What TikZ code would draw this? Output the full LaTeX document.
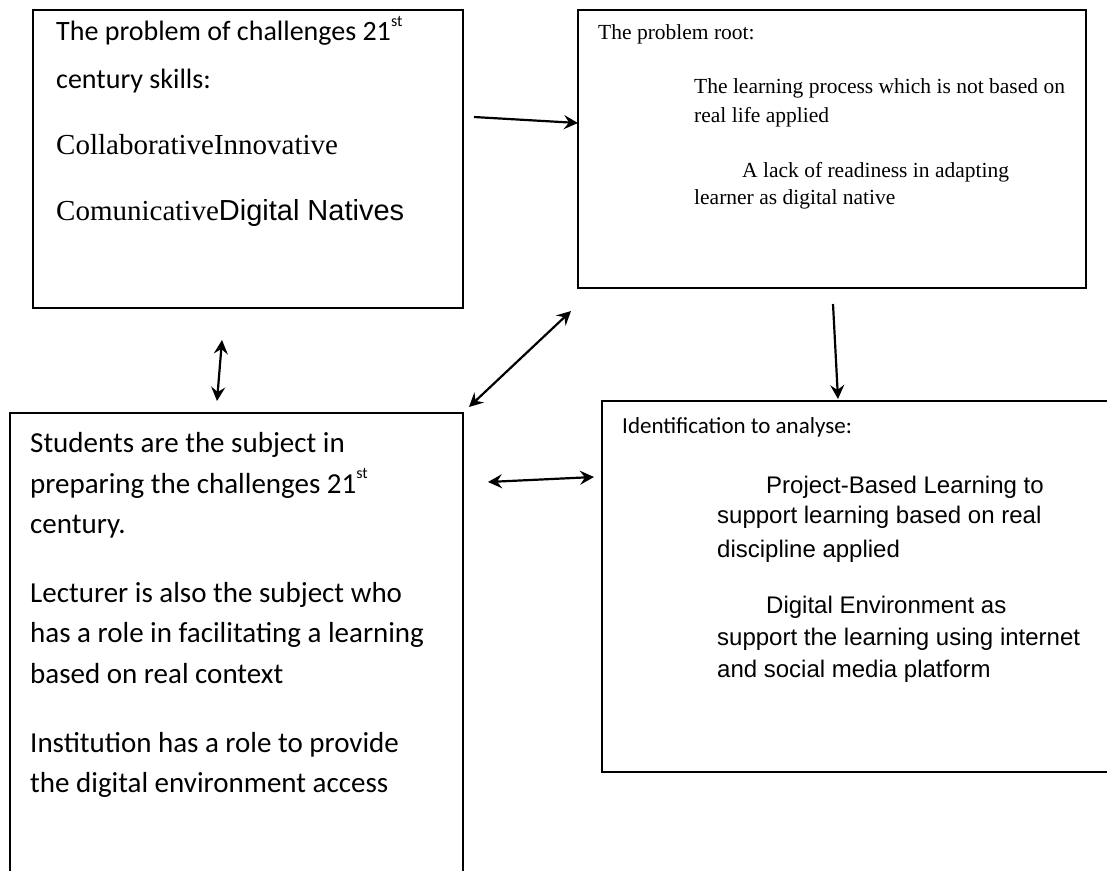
\documentclass[tikz,border=0pt]{standalone}
\usepackage{fontspec}
\newfontfamily\fcal{Carlito}
\newfontfamily\ftms{Liberation Serif}
\newfontfamily\fari{Liberation Sans}
\usetikzlibrary{arrows.meta}
\newcommand{\supst}{\raisebox{0.5em}{\fontsize{16}{16}\selectfont st}}
\begin{document}
\begin{tikzpicture}[x=1pt,y=-1pt,
  box/.style={draw,line width=1.8pt,rectangle,inner sep=0pt,anchor=north west},
  ln/.style={anchor=base west,inner sep=0pt},
  fa/.style={font=\fcal\fontsize{28}{30}\selectfont},
  ta/.style={font=\ftms\fontsize{29}{31}\selectfont},
  tb/.style={font=\ftms\fontsize{21.5}{24}\selectfont},
  fc/.style={font=\fcal\fontsize{29}{31}\selectfont},
  fd/.style={font=\fcal\fontsize{23}{25}\selectfont},
  ad/.style={font=\fari\fontsize{24}{26}\selectfont},
  tip/.tip={Stealth[length=14pt,width=14pt,inset=5pt]},
  arr/.style={line width=2.2pt,-tip},
  darr/.style={line width=2.2pt,tip-tip}]
\useasboundingbox (0,0) rectangle (1107,870);
\fill[white] (0,0) rectangle (1107,870);

% boxes
\node[box,minimum width=430pt,minimum height=298pt] (A) at (32,9) {};
\node[box,minimum width=508pt,minimum height=278pt] (B) at (577,9) {};
\node[box,minimum width=453pt,minimum height=480pt] (C) at (9,412) {};
\node[box,minimum width=520pt,minimum height=371pt] (D) at (601,400) {};

% box A text
\node[ln,fa] (a1) at (56,40) {The problem of challenges 21\supst};
\node[ln,fa] (a2) at (56,88) {century skills:};
\node[ln,ta] (a3) at (56,154) {CollaborativeInnovative};
\node[ln,ta] (a4) at (56,220) {Comunicative{\fari Digital Natives}};

% box B text
\node[ln,tb] (b1) at (598,39) {The problem root:};
\node[ln,tb] (b2) at (694,93) {The learning process which is not based on};
\node[ln,tb] (b3) at (694,122) {real life applied};
\node[ln,tb] (b4) at (742,177) {A lack of readiness in adapting};
\node[ln,tb] (b5) at (694,204) {learner as digital native};

% box C text
\node[ln,fc] (c1) at (30,452) {Students are the subject in};
\node[ln,fc] (c2) at (30,493) {preparing the challenges 21\supst};
\node[ln,fc] (c3) at (30,533) {century.};
\node[ln,fc] (c4) at (30,602) {Lecturer is also the subject who};
\node[ln,fc] (c5) at (30,642) {has a role in facilitating a learning};
\node[ln,fc] (c6) at (30,683) {based on real context};
\node[ln,fc] (c7) at (30,752) {Institution has a role to provide};
\node[ln,fc] (c8) at (30,792) {the digital environment access};

% box D text
\node[ln,fd] (d1) at (622,433) {Identification to analyse:};
\node[ln,ad] (d2) at (766,493) {Project-Based Learning to};
\node[ln,ad] (d3) at (717,523) {support learning based on real};
\node[ln,ad] (d4) at (717,557) {discipline applied};
\node[ln,ad] (d5) at (766,613) {Digital Environment as};
\node[ln,ad] (d6) at (717,645) {support the learning using internet};
\node[ln,ad] (d7) at (717,677) {and social media platform};

% connector ends
\coordinate (ab1) at (474,117);
\coordinate (ab2) at (578,123);
\coordinate (ac1) at (222,340);
\coordinate (ac2) at (217,401);
\coordinate (bc1) at (571,311);
\coordinate (bc2) at (469,407);
\coordinate (bd1) at (833,304);
\coordinate (bd2) at (838,399);
\coordinate (cd1) at (488,482);
\coordinate (cd2) at (594,477);

\draw[arr] (ab1) -- (ab2);
\draw[darr] (ac1) -- (ac2);
\draw[darr] (bc1) -- (bc2);
\draw[arr] (bd1) -- (bd2);
\draw[darr] (cd1) -- (cd2);
\end{tikzpicture}
\end{document}
